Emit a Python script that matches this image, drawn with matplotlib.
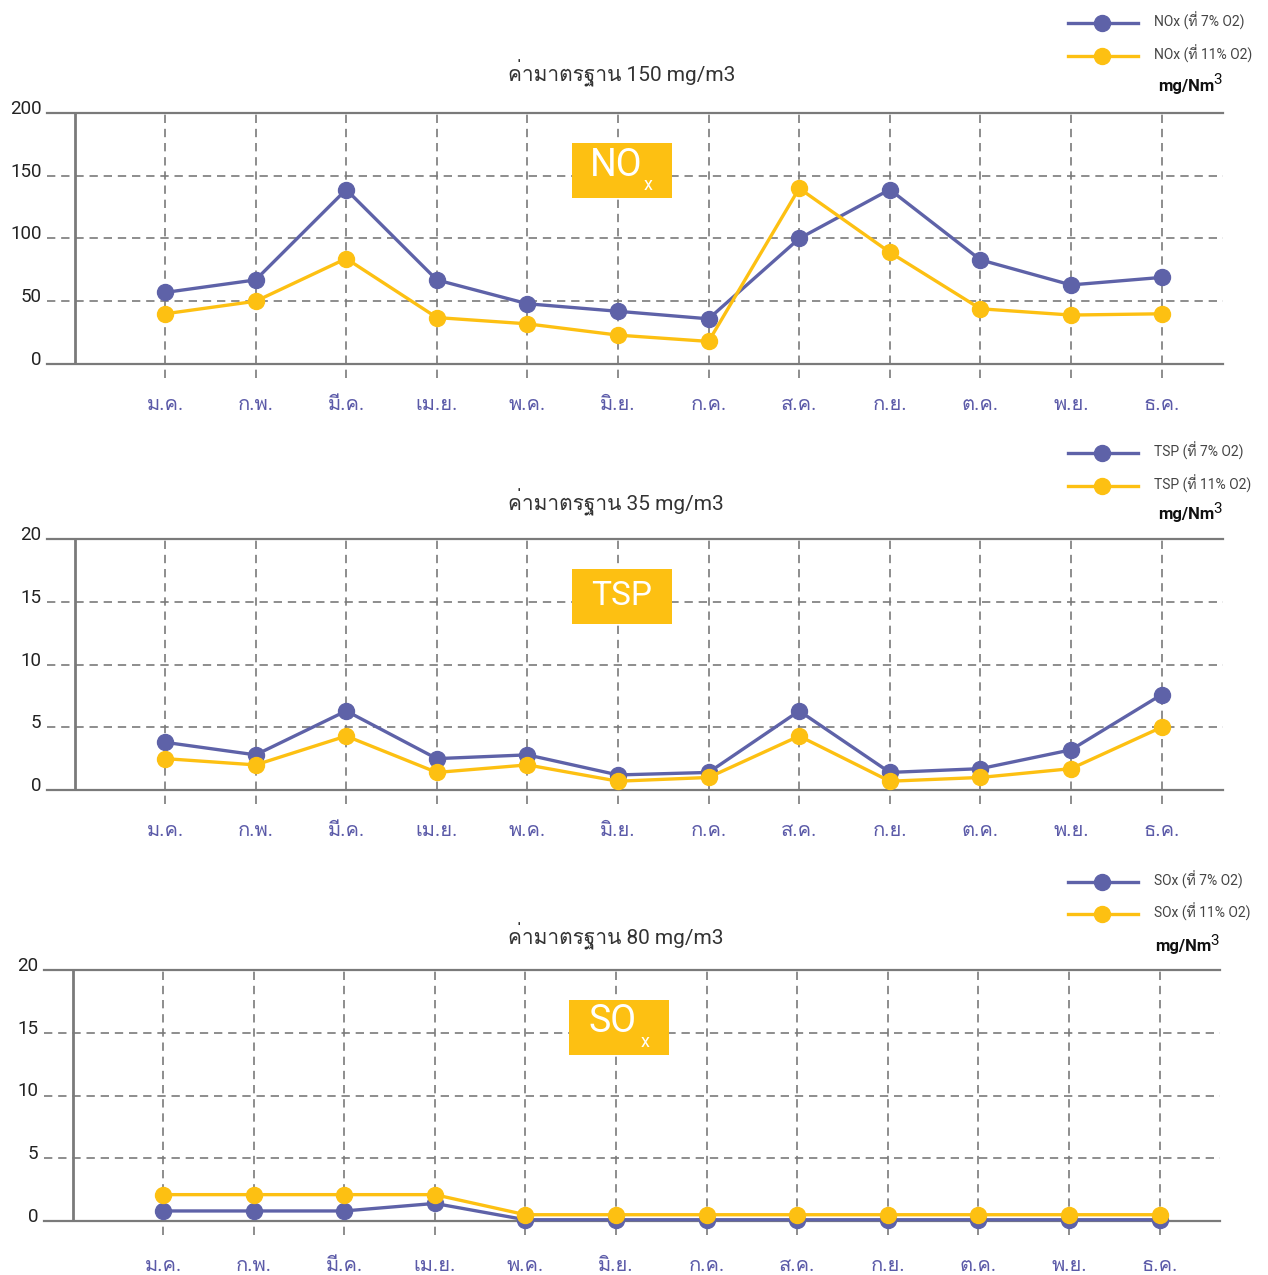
"""
Monthly stack emissions (NOx / TSP / SOx), three stacked panels.
"""

import matplotlib
matplotlib.use("Agg")
import matplotlib.pyplot as plt
import matplotlib.lines as mlines
import matplotlib.patches as mpatches
import matplotlib.transforms as mtransforms
from matplotlib import font_manager
from matplotlib.ft2font import FT2Font

W, H = 1268, 1275

# ── Data ──────────────────────────────────────────────────────────────
MONTHS = ["ม.ค.", "ก.พ.", "มี.ค.", "เม.ย.", "พ.ค.", "มิ.ย.",
          "ก.ค.", "ส.ค.", "ก.ย.", "ต.ค.", "พ.ย.", "ธ.ค."]

NOX_7 = [57, 67, 139, 67, 48, 42, 36, 100, 139, 83, 63, 69]
NOX_11 = [40, 50, 84, 37, 32, 23, 18, 140, 89, 44, 39, 40]

TSP_7 = [3.8, 2.8, 6.3, 2.5, 2.8, 1.2, 1.4, 6.3, 1.4, 1.7, 3.2, 7.6]
TSP_11 = [2.5, 2.0, 4.3, 1.4, 2.0, 0.7, 1.0, 4.3, 0.7, 1.0, 1.7, 5.0]

SOX_7 = [0.8, 0.8, 0.8, 1.4, 0.1, 0.1, 0.1, 0.1, 0.1, 0.1, 0.1, 0.1]
SOX_11 = [2.1, 2.1, 2.1, 2.1, 0.5, 0.5, 0.5, 0.5, 0.5, 0.5, 0.5, 0.5]

NOX_TICKS = [0, 50, 100, 150, 200]
SMALL_TICKS = [0, 5, 10, 15, 20]

BLUE = "#5E62A8"
YELLOW = "#FDC012"
GRAY = "#7A7A7A"
PURPLE = "#5B5AA8"


# ── Fonts: need something with Thai glyphs ────────────────────────────
def find_thai_family():
    for f in font_manager.fontManager.ttflist:
        try:
            cmap = FT2Font(f.fname).get_charmap()
        except Exception:
            continue
        if 0x0E04 in cmap and 0x0E32 in cmap:
            return f.name
    return None


THAI = find_thai_family()
FAMILY = ["Roboto"] + ([THAI] if THAI else []) + ["DejaVu Sans"]
plt.rcParams["font.family"] = FAMILY


# ── Panel layout (pixels in the 1268x1275 canvas) ─────────────────────
PANELS = [
    dict(s7=NOX_7, s11=NOX_11, ticks=NOX_TICKS, name="NOx", box="NO", sub="x",
         title="ค่ามาตรฐาน 150 mg/m3", top=113, bottom=364, left=47, right=1223,
         x0=165, title_xy=(622, 73), leg_y=(23, 56), unit_y=86, xpad=22,
         box_xy=(572, 143)),
    dict(s7=TSP_7, s11=TSP_11, ticks=SMALL_TICKS, name="TSP", box="TSP", sub="",
         title="ค่ามาตรฐาน 35 mg/m3", top=539, bottom=790, left=47, right=1223,
         x0=165, title_xy=(616, 502), leg_y=(453, 486), unit_y=515, xpad=22,
         box_xy=(572, 569)),
    dict(s7=SOX_7, s11=SOX_11, ticks=SMALL_TICKS, name="SOx", box="SO", sub="x",
         title="ค่ามาตรฐาน 80 mg/m3", top=970, bottom=1221, left=44, right=1220,
         x0=163, title_xy=(616, 936), leg_y=(882, 914), unit_y=947, xpad=25,
         box_xy=(569, 1000)),
]
DX = 90.6  # pixels between months


def fx(px):
    return px / W


def fy(py):
    return 1 - py / H


def draw_panel(fig, p):
    ymax = p["ticks"][-1]
    ax = fig.add_axes([fx(p["left"]), fy(p["bottom"]),
                       (p["right"] - p["left"]) / W, (p["bottom"] - p["top"]) / H])
    ax.set_xlim((p["left"] - p["x0"]) / DX, (p["right"] - p["x0"]) / DX)
    ax.set_ylim(0, ymax)
    ax.set_facecolor("none")

    for side in ("left", "right"):
        ax.spines[side].set_visible(False)
    for side in ("top", "bottom"):
        ax.spines[side].set_color(GRAY)
        ax.spines[side].set_linewidth(1.6)

    # left axis line sits one month-step before January
    ax.axvline(-0.99, color=GRAY, lw=2.0, zorder=2)

    # grid
    dash = (0, (5, 3.5))
    for v in p["ticks"][1:-1]:
        ax.axhline(v, color=GRAY, lw=1.2, ls=dash, zorder=1)
    ext = 14 * ymax / (p["bottom"] - p["top"])
    ax.vlines(range(len(MONTHS)), -ext, ymax, colors=GRAY, lw=1.2,
              linestyles=dash, clip_on=False, zorder=1)

    # series
    x = range(len(MONTHS))
    ax.plot(x, p["s7"], color=BLUE, lw=2.4, marker="o", ms=11.5,
            clip_on=False, zorder=4)
    ax.plot(x, p["s11"], color=YELLOW, lw=2.4, marker="o", ms=11.5,
            clip_on=False, zorder=5)

    # ticks
    ax.set_xticks(list(x), MONTHS)
    ax.set_yticks(p["ticks"], [str(t) for t in p["ticks"]])
    ax.tick_params(axis="x", length=0, pad=p["xpad"], labelsize=14.5,
                   labelcolor=PURPLE)
    ax.tick_params(axis="y", length=0, pad=4, labelsize=13.5, labelcolor="#222222")
    shift = mtransforms.ScaledTranslation(0, 6 / 100, fig.dpi_scale_trans)
    for lbl in ax.get_yticklabels():
        lbl.set_transform(lbl.get_transform() + shift)

    # standard value title
    tx, ty = p["title_xy"]
    fig.text(fx(tx), fy(ty), p["title"], ha="center", va="center",
             fontsize=15, color="#333333")

    # legend (top right)
    for sy, col, pct in zip(p["leg_y"], (BLUE, YELLOW), ("7%", "11%")):
        fig.add_artist(mlines.Line2D([fx(1068), fx(1138)], [fy(sy), fy(sy)],
                                     color=col, lw=2.4))
        fig.add_artist(mlines.Line2D([fx(1102)], [fy(sy)], color=col,
                                     marker="o", ms=11.5, lw=0))
        fig.text(fx(1154), fy(sy - 2), f"{p['name']} (ที่ {pct} O2)",
                 ha="left", va="center", fontsize=10, color="#444444")
    ux = p["right"]
    fig.text(fx(ux - 9), fy(p["unit_y"]), "mg/Nm", ha="right",
             va="center", fontsize=12, color="#111111", fontweight="bold")
    fig.text(fx(ux - 10), fy(p["unit_y"] - 6), "3", ha="left",
             va="center", fontsize=11, color="#111111")

    # pollutant badge
    bx, by = p["box_xy"]
    fig.add_artist(mpatches.Rectangle((fx(bx), fy(by + 55)), 100 / W, 55 / H,
                                      transform=fig.transFigure,
                                      color=YELLOW, lw=0))
    if p["sub"]:
        fig.text(fx(bx + 44), fy(by + 22), p["box"], ha="center", va="center",
                 fontsize=27, color="white")
        fig.text(fx(bx + 76), fy(by + 42), p["sub"], ha="center", va="center",
                 fontsize=13, color="white")
    else:
        fig.text(fx(bx + 50), fy(by + 27), p["box"], ha="center", va="center",
                 fontsize=24, color="white")
    return ax


def main():
    fig = plt.figure(figsize=(W / 100, H / 100), dpi=100)
    for p in PANELS:
        draw_panel(fig, p)
    fig.savefig("out.png", dpi=100)
    plt.close(fig)


if __name__ == "__main__":
    main()
